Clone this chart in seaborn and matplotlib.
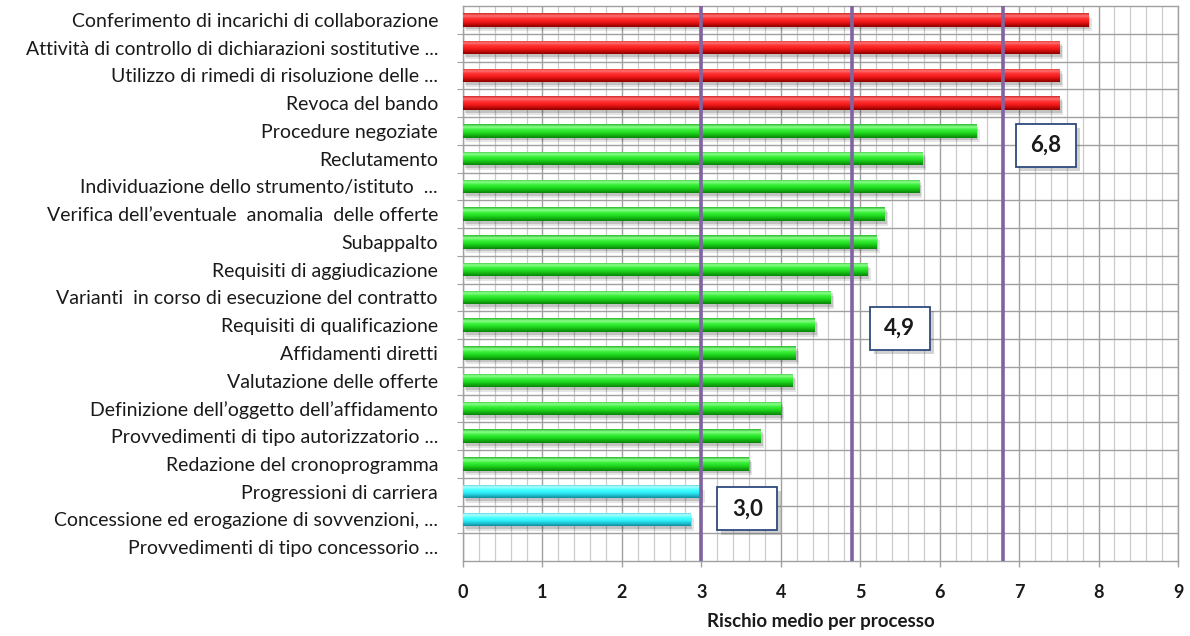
import numpy as np
import pandas as pd
import matplotlib
matplotlib.use("Agg")
import matplotlib.pyplot as plt
import matplotlib.patheffects as pe
from matplotlib.colors import LinearSegmentedColormap, to_rgb
from matplotlib.patches import Rectangle
from matplotlib.ticker import MultipleLocator, FixedLocator
import seaborn as sns

# ---- data -------------------------------------------------------------
processi = [
    "Conferimento di incarichi di collaborazione",
    "Attività di controllo di dichiarazioni sostitutive ...",
    "Utilizzo di rimedi di risoluzione delle ...",
    "Revoca del bando",
    "Procedure negoziate",
    "Reclutamento",
    "Individuazione dello strumento/istituto  ...",
    "Verifica dell’eventuale  anomalia  delle offerte",
    "Subappalto",
    "Requisiti di aggiudicazione",
    "Varianti  in corso di esecuzione del contratto",
    "Requisiti di qualificazione",
    "Affidamenti diretti",
    "Valutazione delle offerte",
    "Definizione dell’oggetto dell’affidamento",
    "Provvedimenti di tipo autorizzatorio ...",
    "Redazione del cronoprogramma",
    "Progressioni di carriera",
    "Concessione ed erogazione di sovvenzioni, ...",
    "Provvedimenti di tipo concessorio ...",
]
rischio = [7.87, 7.51, 7.51, 7.51, 6.46, 5.79, 5.74, 5.31, 5.20, 5.09,
           4.63, 4.43, 4.19, 4.15, 4.00, 3.75, 3.60, 3.00, 2.86, 0.0]
fascia = ["alta"] * 4 + ["media"] * 13 + ["bassa"] * 3
soglie = [3.0, 4.9, 6.8]
x_ticks = [0, 1, 2, 3, 4, 5, 6, 7, 8, 9]
x_title = "Rischio medio per processo"

# ---- style ------------------------------------------------------------
sns.set_theme(style="white")
plt.rcParams["font.family"] = ["Lato", "DejaVu Sans"]

colori = {"alta": "#ff2020", "media": "#22dd22", "bassa": "#33f4fa"}
sfumature = {
    "alta": ["#d42a2a", "#ff7070", "#ff3030", "#f51c1c", "#c80a0a", "#8c0000"],
    "media": ["#2cb82c", "#8cff8c", "#3cf03c", "#22dd22", "#12b412", "#0a820a"],
    "bassa": ["#38c8d2", "#b0ffff", "#48ffff", "#30f2fa", "#20c4d4", "#108c9c"],
}

df = pd.DataFrame({"processo": processi, "rischio": rischio, "fascia": fascia})

fig = plt.figure(figsize=(11.9, 6.36), dpi=100)
ax = fig.add_axes([463 / 1190, 1 - 561 / 636, (1178 - 463) / 1190, (561 - 6) / 636])

sns.barplot(data=df, x="rischio", y="processo", hue="fascia", palette=colori,
            dodge=False, legend=False, orient="h", width=0.48, ax=ax,
            saturation=1, zorder=3)

# cylindrical shading on each bar + soft drop shadow
for patch in list(ax.patches):
    w = patch.get_width()
    if w <= 0:
        patch.set_visible(False)
        continue
    fc = patch.get_facecolor()
    key = min(colori, key=lambda k: np.sum((np.array(to_rgb(colori[k])) - np.array(fc[:3])) ** 2))
    cmap = LinearSegmentedColormap.from_list(key, sfumature[key])
    x0, y0, h = patch.get_x(), patch.get_y(), patch.get_height()
    patch.set_linewidth(0)
    patch.set_path_effects([
        pe.SimplePatchShadow(offset=(2.5, -3.5), shadow_rgbFace="#000000", alpha=0.10),
        pe.SimplePatchShadow(offset=(1.5, -2), shadow_rgbFace="#000000", alpha=0.15),
        pe.Normal()])
    grad = np.linspace(0, 1, 64).reshape(-1, 1)
    im = ax.imshow(grad, cmap=cmap, extent=(x0, x0 + w, y0 + h, y0), aspect="auto",
                   interpolation="bilinear", zorder=3.5)
    im.set_clip_path(patch)

# threshold lines
for s in soglie:
    ax.axvline(s, color="#8064a2", lw=2.6, zorder=6)

# value boxes next to the thresholds
box_pos = [(3.2, 17.62), (5.12, 11.11), (6.96, 4.52)]
box_w, box_h = 0.755, 1.55
for s, (bx, by) in zip(soglie, box_pos):
    r = Rectangle((bx, by - box_h / 2), box_w, box_h, facecolor="white",
                  edgecolor="#2f4a7c", lw=1.3, zorder=7,
                  path_effects=[pe.SimplePatchShadow(offset=(3, -3), alpha=0.25), pe.Normal()])
    ax.add_patch(r)
    ax.text(bx + box_w / 2, by, f"{s:.1f}".replace(".", ","), ha="center", va="center",
            fontsize=16, fontweight="bold", color="#1a1a1a", zorder=8)

# axes, grid and ticks
ax.set_xlim(0, 9)
ax.set_ylim(len(processi) - 0.5, -0.5)
ax.xaxis.set_major_locator(FixedLocator(x_ticks))
ax.xaxis.set_minor_locator(MultipleLocator(0.2))
ax.yaxis.set_minor_locator(FixedLocator(np.arange(0.5, len(processi) - 0.5, 1.0)))
ax.grid(False)
ax.grid(True, which="major", axis="x", color="#a0a0a0", lw=1.0, zorder=0)
ax.grid(True, which="minor", axis="x", color="#cccccc", lw=0.9, zorder=0)
ax.grid(True, which="minor", axis="y", color="#a0a0a0", lw=1.0, zorder=0)
ax.set_axisbelow(True)

for sp in ax.spines.values():
    sp.set_color("#a0a0a0")
    sp.set_linewidth(1.0)

ax.tick_params(axis="y", which="major", length=0, pad=18, labelsize=14, labelcolor="#1a1a1a")
ax.tick_params(axis="y", which="minor", left=True, length=4.5, width=0.8, color="#a0a0a0")
ax.tick_params(axis="x", which="major", bottom=True, length=4.5, width=1.0, color="#a0a0a0",
               pad=12, labelsize=13, labelcolor="#1a1a1a")
ax.tick_params(axis="x", which="minor", bottom=False)
for lab in ax.get_xticklabels():
    lab.set_fontweight("bold")

ax.set_ylabel("")
ax.set_xlabel(x_title, fontsize=13.5, fontweight="bold", color="#1a1a1a", labelpad=9)

fig.savefig("out.png", dpi=100)
